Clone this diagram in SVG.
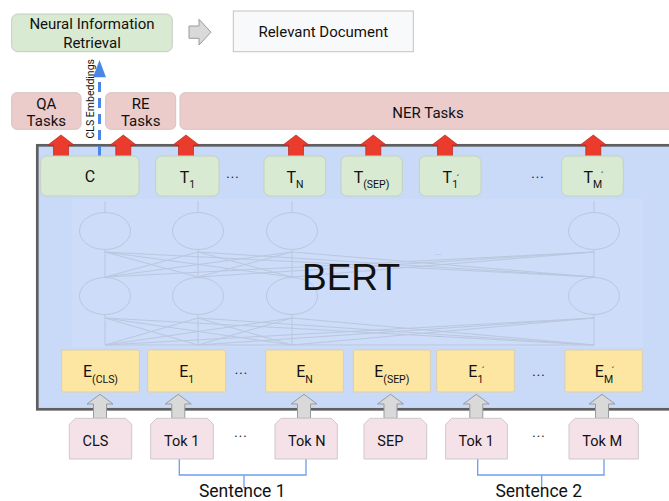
<svg xmlns="http://www.w3.org/2000/svg" width="669" height="501" viewBox="0 0 669 501">
<style>
text{font-family:Roboto,"Liberation Sans",sans-serif;fill:#111}
.task{fill:#eccbcb;stroke:#d6c2c2;stroke-width:1}
.tbox{fill:#d9ead3;stroke:#c4d1c0;stroke-width:1}
.ebox{fill:#fde6a2;stroke:#d9cfae;stroke-width:1}
.tok{fill:#f5e2e8;stroke:#cfc8ca;stroke-width:1}
.nn{fill:none;stroke:#a9b3c5;stroke-width:1;opacity:0.5}
.t15{font-size:15px}
.mid{text-anchor:middle}
.main{font-size:16px}
.sub{font-size:10.5px}
.dots{font-size:13px;letter-spacing:1px;text-anchor:middle}
.pr{font-size:9px}
.tt{font-size:14.5px}
.br{fill:none;stroke:#6d9eeb;stroke-width:1.3}
</style>
<defs>
<path id="redArrow" d="M-7.5,22V10H-13L0,0L13,10H7.5V22Z" fill="#ea3b2c" stroke="#b52a1e" stroke-width="0.7"/>
<path id="greyArrow" d="M-6.5,24V9.7H-13L0,0L13,9.7H6.5V24Z" fill="#d9d9d9" stroke="#9a9a9a" stroke-width="1"/>
</defs>

<!-- top row -->
<g id="nir">
<rect x="11.7" y="14" width="160.6" height="37.7" rx="6" fill="#d9ead3" stroke="#c4ccc2"/>
<text class="t15 mid" x="92" y="29.3">Neural Information</text>
<text class="t15 mid" x="92" y="47.7">Retrieval</text>
</g>
<g id="flow-arrow">
<polygon points="189,26 199,26 199,19.3 211,32.2 199,45 199,38.3 189,38.3" fill="#d9d9d9" stroke="#9a9a9a"/>
</g>
<g id="relevant-doc">
<rect x="233.3" y="11" width="180" height="40.7" fill="#f8f9fa" stroke="#c4c4c4"/>
<text class="t15 mid" x="323.3" y="36.7">Relevant Document</text>
</g>

<!-- task boxes -->
<g id="qa">
<rect class="task" x="11.7" y="92.7" width="69.3" height="36.6" rx="5"/>
<text class="t15 mid" x="46.3" y="109">QA</text>
<text class="t15 mid" x="46.3" y="126">Tasks</text>
</g>
<g id="re">
<rect class="task" x="105.7" y="92.7" width="70" height="36.6" rx="5"/>
<text class="t15 mid" x="140.7" y="109">RE</text>
<text class="t15 mid" x="140.7" y="126">Tasks</text>
</g>
<g id="ner">
<rect class="task" x="180" y="92.7" width="540" height="36.6" rx="5"/>
<text class="t15 mid" x="428" y="118.3">NER Tasks</text>
</g>

<!-- BERT -->
<g id="bert">
<rect x="37.3" y="145.3" width="700" height="264" fill="#c9daf8" stroke="#5f5f5f" stroke-width="2.7"/>
<rect x="72" y="199" width="571" height="148" fill="#ffffff" opacity="0.08"/>
<g class="nn">
<ellipse cx="105" cy="231" rx="25.5" ry="18.5"/>
<ellipse cx="198" cy="231" rx="25.5" ry="18.5"/>
<ellipse cx="292" cy="231" rx="25.5" ry="18.5"/>
<ellipse cx="594" cy="231" rx="25.5" ry="18.5"/>
<ellipse cx="105" cy="296" rx="25.5" ry="18.5"/>
<ellipse cx="198" cy="296" rx="25.5" ry="18.5"/>
<ellipse cx="292" cy="296" rx="25.5" ry="18.5"/>
<ellipse cx="594" cy="296" rx="25.5" ry="18.5"/>
<path d="M105,201V212.5M198,201V212.5M292,201V212.5M594,201V212.5"/>
<path d="M105,277.5V249.5M198,277.5V249.5M292,277.5V249.5M594,277.5V249.5"/>
<path d="M105,277L198,252M105,277L292,252M105,277L594,252M198,277L105,252M198,277L292,252M198,277L594,252M292,277L105,252M292,277L198,252M292,277L594,252M594,277L105,252M594,277L198,252M594,277L292,252"/>
<path d="M105,345V314.5M198,345V314.5M292,345V314.5M594,345V314.5M105,345H594"/>
<path d="M105,345L198,318M105,345L292,318M105,345L594,318M198,345L105,318M198,345L292,318M198,345L594,318M292,345L105,318M292,345L198,318M292,345L594,318M594,345L105,318M594,345L198,318M594,345L292,318"/>
</g>
<text x="438" y="255" style="font-size:8px;fill:#a9b3c5;text-anchor:middle">...</text>
<text x="438" y="337" style="font-size:8px;fill:#a9b3c5;text-anchor:middle">...</text>
<text x="302" y="290" style="font-family:'Liberation Sans',Arial,sans-serif;font-size:37px;fill:#111">BERT</text>
</g>

<!-- connectors -->
<g id="connectors">
<use href="#redArrow" x="61" y="135"/>
<use href="#redArrow" x="123.3" y="135"/>
<use href="#redArrow" x="186" y="135"/>
<use href="#redArrow" x="296" y="135"/>
<use href="#redArrow" x="373.3" y="135"/>
<use href="#redArrow" x="445" y="135"/>
<use href="#redArrow" x="593.3" y="135"/>
<line x1="99.5" y1="156" x2="99.5" y2="77" stroke="#4a86e8" stroke-width="3" stroke-dasharray="10 6"/>
<polygon points="99.5,60 106,77.3 93,77.3" fill="#4a86e8"/>
<use href="#greyArrow" x="100" y="394.3"/>
<use href="#greyArrow" x="178.3" y="394.3"/>
<use href="#greyArrow" x="304" y="394.3"/>
<use href="#greyArrow" x="390.5" y="394.3"/>
<use href="#greyArrow" x="476.3" y="394.3"/>
<use href="#greyArrow" x="602" y="394.3"/>
<path class="br" d="M179.3,459V475H306V459M244,475V488"/>
<path class="br" d="M477.7,459V475H604V459M541.7,475V488"/>
</g>
<text transform="translate(93.5,138.5) rotate(-90)" style="font-size:10.5px">CLS Embeddings</text>

<!-- output tokens -->
<g id="out-c">
<rect class="tbox" x="40.7" y="156" width="98.3" height="40" rx="6"/>
<text class="main mid" x="90" y="182">C</text>
</g>
<g id="out-t1">
<rect class="tbox" x="155.7" y="156" width="63.3" height="40" rx="6"/>
<text class="main mid" x="187.5" y="182.7">T<tspan class="sub" dy="5.6">1</tspan></text>
</g>
<text class="dots" x="233" y="178">...</text>
<g id="out-tn">
<rect class="tbox" x="264" y="156" width="61.7" height="40" rx="6"/>
<text class="main mid" x="295" y="182.7">T<tspan class="sub" dy="5.6">N</tspan></text>
</g>
<g id="out-tsep">
<rect class="tbox" x="341" y="156" width="61.3" height="40" rx="6"/>
<text class="main mid" x="371.5" y="182.7">T<tspan class="sub" dy="5.6">(SEP)</tspan></text>
</g>
<g id="out-t1p">
<rect class="tbox" x="419.3" y="156" width="61.7" height="40" rx="6"/>
<text class="main mid" x="451" y="182.7">T<tspan class="sub" dy="5.6">1</tspan><tspan class="pr" dx="-1.5" dy="-6">´</tspan></text>
</g>
<text class="dots" x="538" y="178">...</text>
<g id="out-tmp">
<rect class="tbox" x="561.7" y="156" width="61.6" height="40" rx="6"/>
<text class="main mid" x="593.5" y="182.7">T<tspan class="sub" dy="5.6">M</tspan><tspan class="pr" dx="-1.5" dy="-9">´</tspan></text>
</g>

<!-- embeddings -->
<g id="e-cls">
<rect class="ebox" x="61.7" y="350" width="77.6" height="42" rx="1"/>
<text class="main mid" x="100.5" y="376.7">E<tspan class="sub" dy="6.6">(CLS)</tspan></text>
</g>
<g id="e-1">
<rect class="ebox" x="147.7" y="350" width="78" height="42" rx="1"/>
<text class="main mid" x="186.7" y="376.7">E<tspan class="sub" dy="6.6">1</tspan></text>
</g>
<text class="dots" x="241.5" y="374">...</text>
<g id="e-n">
<rect class="ebox" x="265.7" y="350" width="77.6" height="42" rx="1"/>
<text class="main mid" x="304.5" y="376.7">E<tspan class="sub" dy="6.6">N</tspan></text>
</g>
<g id="e-sep">
<rect class="ebox" x="353.3" y="350" width="77" height="42" rx="1"/>
<text class="main mid" x="391.8" y="376.7">E<tspan class="sub" dy="6.6">(SEP)</tspan></text>
</g>
<g id="e-1p">
<rect class="ebox" x="436.7" y="350" width="77.6" height="42" rx="1"/>
<text class="main mid" x="476.5" y="376.7">E<tspan class="sub" dy="6.6">1</tspan><tspan class="pr" dx="-1.5" dy="-9">´</tspan></text>
</g>
<text class="dots" x="539" y="376">...</text>
<g id="e-mp">
<rect class="ebox" x="565" y="350" width="77.3" height="42" rx="1"/>
<text class="main mid" x="604.6" y="376.7">E<tspan class="sub" dy="6.6">M</tspan><tspan class="pr" dx="-1.5" dy="-9">´</tspan></text>
</g>

<!-- input tokens -->
<g id="tok-cls">
<path class="tok" d="M75.3,418.3H125.7L131.7,424.3V459H69.3V424.3Z"/>
<text class="tt" x="82.5" y="445.7">CLS</text>
</g>
<g id="tok-1">
<path class="tok" d="M156.7,418.3H207.3L213.3,424.3V459H150.7V424.3Z"/>
<text class="tt" x="164" y="445.7">Tok 1</text>
</g>
<text class="dots" x="241" y="436.5">...</text>
<g id="tok-n">
<path class="tok" d="M281,418.3H331.3L337.3,424.3V459H275V424.3Z"/>
<text class="tt" x="288" y="445.7">Tok N</text>
</g>
<g id="tok-sep">
<path class="tok" d="M370,418.3H420.7L426.7,424.3V459H364V424.3Z"/>
<text class="tt" x="377.3" y="445.7">SEP</text>
</g>
<g id="tok-1p">
<path class="tok" d="M451.7,418.3H501.3L507.3,424.3V459H445.7V424.3Z"/>
<text class="tt" x="458.5" y="445.7">Tok 1</text>
</g>
<text class="dots" x="539" y="436.5">...</text>
<g id="tok-m">
<path class="tok" d="M575,418.3H632.3L638.3,424.3V459H569V424.3Z"/>
<text class="tt" x="582.3" y="445.7">Tok M</text>
</g>

<g id="sentence-1"><text class="mid" x="242.2" y="497" style="font-size:17.5px">Sentence 1</text></g>
<g id="sentence-2"><text class="mid" x="538.7" y="497" style="font-size:17.5px">Sentence 2</text></g>
</svg>
